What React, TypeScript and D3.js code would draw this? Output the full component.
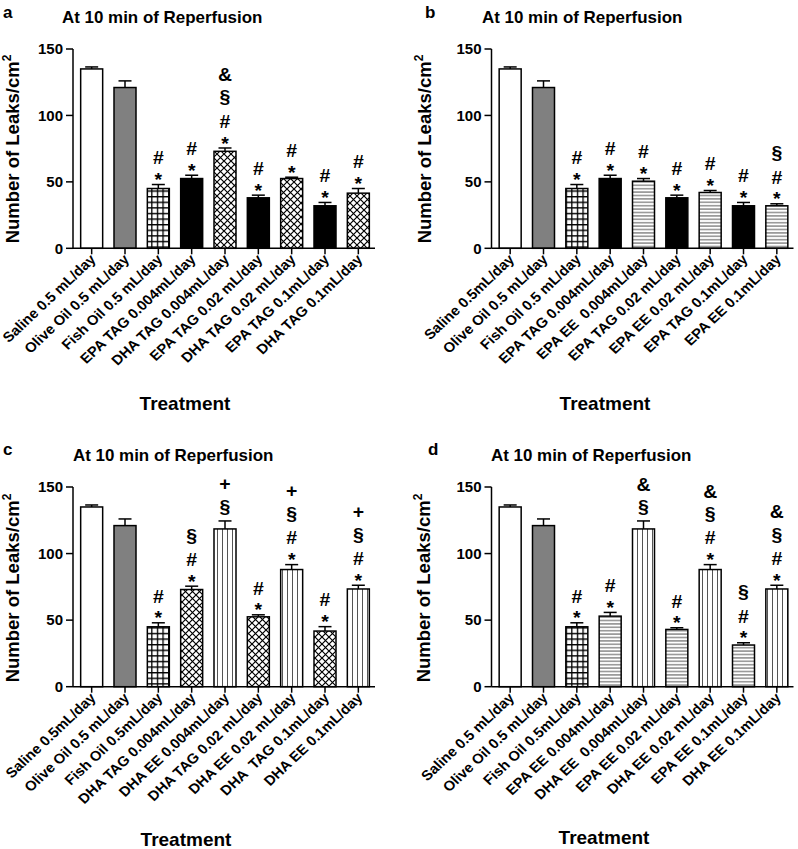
import React from 'react';
import * as d3 from 'd3';

const FONT = "'Liberation Sans', Arial, Helvetica, sans-serif";

// ---------- data ----------
const yTicks = [0, 50, 100, 150];
const panelTitle = 'At 10 min of Reperfusion';
const yLabel = 'Number of Leaks/cm';
const xTitle = 'Treatment';

const labelsA = ['Saline 0.5 mL/day', 'Olive Oil 0.5 mL/day', 'Fish Oil 0.5 mL/day', 'EPA TAG 0.004mL/day', 'DHA TAG 0.004mL/day', 'EPA TAG 0.02 mL/day', 'DHA TAG 0.02 mL/day', 'EPA TAG 0.1mL/day', 'DHA TAG 0.1mL/day'];
const valuesA = [135, 121, 45, 52.5, 73, 38, 52.5, 32, 41.5];
const errorsA = [1.5, 5, 3, 2.5, 2.5, 2, 1, 2.5, 3.5];
const fillsA = ['white', 'gray', 'grid', 'black', 'cross', 'black', 'cross', 'black', 'cross'];
const marksA = [[], [], ['*', '#'], ['*', '#'], ['*', '#', '§', '&'], ['*', '#'], ['*', '#'], ['*', '#'], ['*', '#']];

const labelsB = ['Saline 0.5mL/day', 'Olive Oil 0.5 mL/day', 'Fish Oil 0.5 mL/day', 'EPA TAG 0.004mL/day', 'EPA EE  0.004mL/day', 'EPA TAG 0.02 mL/day', 'EPA EE 0.02 mL/day', 'EPA TAG 0.1mL/day', 'EPA EE 0.1mL/day'];
const valuesB = [135, 121, 45, 52.5, 50.5, 38, 42, 32, 32];
const errorsB = [1.5, 5, 3, 2.5, 2, 2, 1.5, 2.5, 1.5];
const fillsB = ['white', 'gray', 'grid', 'black', 'hline', 'black', 'hline', 'black', 'hline'];
const marksB = [[], [], ['*', '#'], ['*', '#'], ['*', '#'], ['*', '#'], ['*', '#'], ['*', '#'], ['*', '#', '§']];

const labelsC = ['Saline 0.5mL/day', 'Olive Oil 0.5 mL/day', 'Fish Oil 0.5mL/day', 'DHA TAG 0.004mL/day', 'DHA EE 0.004mL/day', 'DHA TAG 0.02 mL/day', 'DHA EE 0.02 mL/day', 'DHA  TAG 0.1mL/day', 'DHA EE 0.1mL/day'];
const valuesC = [135, 121, 45, 73, 118.5, 52.5, 88, 41.8, 73.4];
const errorsC = [1.5, 5, 3, 2.5, 6, 1.5, 3.7, 3.3, 2.8];
const fillsC = ['white', 'gray', 'grid', 'cross', 'vline', 'cross', 'vline', 'cross', 'vline'];
const marksC = [[], [], ['*', '#'], ['*', '#', '§'], ['§', '+'], ['*', '#'], ['*', '#', '§', '+'], ['*', '#'], ['*', '#', '§', '+']];

const labelsD = ['Saline 0.5 mL/day', 'Olive Oil 0.5 mL/day', 'Fish Oil 0.5mL/day', 'EPA EE 0.004mL/day', 'DHA EE  0.004mL/day', 'EPA EE 0.02 mL/day', 'DHA EE 0.02 mL/day', 'EPA EE 0.1mL/day', 'DHA EE 0.1mL/day'];
const valuesD = [135, 121, 45, 53, 118.5, 43, 88, 31.3, 73.4];
const errorsD = [1.5, 5, 3, 2.8, 6, 1.3, 3.7, 1.7, 2.8];
const fillsD = ['white', 'gray', 'grid', 'hline', 'vline', 'hline', 'vline', 'hline', 'vline'];
const marksD = [[], [], ['*', '#'], ['*', '#'], ['§', '&'], ['*', '#'], ['*', '#', '§', '&'], ['*', '#', '§'], ['*', '#', '§', '&']];

// ---------- layout ----------
const panels = [
  { letter: 'a', labels: labelsA, values: valuesA, errors: errorsA, fills: fillsA, marks: marksA,
    x0: 75, y0: 248.3, y150: 49, letterPos: [3, 18], titlePos: [62, 23], yLabPos: [19, 149], xTitlePos: [185, 410] },
  { letter: 'b', labels: labelsB, values: valuesB, errors: errorsB, fills: fillsB, marks: marksB,
    x0: 493.5, y0: 248.3, y150: 49, letterPos: [425, 18], titlePos: [482, 23], yLabPos: [431, 149], xTitlePos: [605, 410] },
  { letter: 'c', labels: labelsC, values: valuesC, errors: errorsC, fills: fillsC, marks: marksC,
    x0: 75, y0: 686.7, y150: 487, letterPos: [3, 455], titlePos: [73, 461], yLabPos: [19, 588], xTitlePos: [186, 846] },
  { letter: 'd', labels: labelsD, values: valuesD, errors: errorsD, fills: fillsD, marks: marksD,
    x0: 493.5, y0: 686.7, y150: 487, letterPos: [428, 455], titlePos: [491, 461], yLabPos: [430, 588], xTitlePos: [604, 844] },
];

const fillFor: Record<string, string> = {
  white: '#ffffff', gray: '#808080', black: '#000000',
  grid: 'url(#pat-grid)', cross: 'url(#pat-cross)', hline: 'url(#pat-hline)', vline: 'url(#pat-vline)',
};

// visual centre of glyph above baseline (em)
const glyphCenter: Record<string, number> = { '*': 0.56, '#': 0.35, '§': 0.3, '&': 0.36, '+': 0.33 };

function Panel({ p }: { p: any }) {
  const x = d3.scaleBand<string>().domain(p.labels).range([p.x0, p.x0 + 300]).paddingInner(0.34).paddingOuter(0.17);
  const y = d3.scaleLinear().domain([0, 150]).range([p.y0, p.y150]);
  const axisX = p.x0 - 2;
  const bw = x.bandwidth();
  const fs = 18;
  return (
    <g>
      <text x={p.letterPos[0]} y={p.letterPos[1]} fontSize={17} fontWeight="bold">{p.letter}</text>
      <text transform={`translate(${p.titlePos[0]},${p.titlePos[1]}) scale(1.04,1)`} fontSize={16.3} fontWeight="bold">{panelTitle}</text>
      <text transform={`translate(${p.yLabPos[0]},${p.yLabPos[1]}) rotate(-90)`} textAnchor="middle" fontSize={18.5} fontWeight="bold">
        {yLabel}<tspan fontSize={12} dy={-8}>2</tspan>
      </text>
      {/* bars */}
      {p.labels.map((lab: string, i: number) => {
        const cx = (x(lab) as number) + bw / 2;
        const top = y(p.values[i]);
        const errTop = y(p.values[i] + p.errors[i]);
        return (
          <g key={lab}>
            <line x1={cx} x2={cx} y1={top} y2={errTop} stroke="#000" strokeWidth={1.5} />
            <line x1={cx - 6.5} x2={cx + 6.5} y1={errTop} y2={errTop} stroke="#000" strokeWidth={1.5} />
            <rect x={x(lab)} y={top} width={bw} height={y(0) - top} fill={fillFor[p.fills[i]]} stroke="#000" strokeWidth={1.5} />
          </g>
        );
      })}
      {/* significance marks */}
      {p.labels.map((lab: string, i: number) => {
        const cx = (x(lab) as number) + bw / 2;
        const errTop = y(p.values[i] + p.errors[i]);
        const out: any[] = [];
        let c = errTop - (p.marks[i][0] === '*' ? 8.5 : 13);
        p.marks[i].forEach((m: string, k: number) => {
          if (k > 0) c -= p.marks[i][k - 1] === '*' ? 18 : 23.5;
          out.push(
            <text key={k} transform={`translate(${cx},${c + glyphCenter[m] * fs}) scale(1.08,1)`} textAnchor="middle" fontSize={fs} fontWeight="bold">{m}</text>
          );
        });
        return <g key={'m' + lab}>{out}</g>;
      })}
      {/* y axis */}
      <line x1={axisX} x2={axisX} y1={y(150)} y2={y(0)} stroke="#000" strokeWidth={1.5} />
      {yTicks.map((t) => (
        <g key={t}>
          <line x1={axisX - 7} x2={axisX} y1={y(t)} y2={y(t)} stroke="#000" strokeWidth={1.5} />
          <text x={axisX - 10} y={y(t)} dy="0.35em" textAnchor="end" fontSize={15} fontWeight="bold">{t}</text>
        </g>
      ))}
      {/* x axis */}
      <line x1={axisX} x2={p.x0 + 300} y1={y(0)} y2={y(0)} stroke="#000" strokeWidth={1.5} />
      {p.labels.map((lab: string) => {
        const cx = (x(lab) as number) + bw / 2;
        return (
          <g key={'t' + lab}>
            <line x1={cx} x2={cx} y1={y(0)} y2={y(0) + 6} stroke="#000" strokeWidth={1.5} />
            <text transform={`translate(${cx + 5},${y(0) + 12}) scale(1.06,1) rotate(-45)`} textAnchor="end" fontSize={14} fontWeight="bold" style={{ whiteSpace: 'pre' }}>{lab}</text>
          </g>
        );
      })}
      <text x={p.xTitlePos[0]} y={p.xTitlePos[1]} textAnchor="middle" fontSize={19} fontWeight="bold">{xTitle}</text>
    </g>
  );
}

export default function App() {
  return (
    <svg width={798} height={849} style={{ position: 'absolute', left: 0, top: 0, background: '#fff' }} fontFamily={FONT}>
      <defs>
        <pattern id="pat-grid" patternUnits="userSpaceOnUse" width={5.6} height={5.6}>
          <rect width={5.6} height={5.6} fill="#fff" />
          <path d="M0,0.6 H5.6 M0.6,0 V5.6" stroke="#000" strokeWidth={1.4} />
        </pattern>
        <pattern id="pat-cross" patternUnits="userSpaceOnUse" width={7} height={7}>
          <rect width={7} height={7} fill="#fff" />
          <path d="M0,0 L7,7 M7,0 L0,7" stroke="#000" strokeWidth={1.2} />
        </pattern>
        <pattern id="pat-hline" patternUnits="userSpaceOnUse" width={4} height={3.4}>
          <rect width={4} height={3.4} fill="#fff" />
          <line x1={0} x2={4} y1={1.7} y2={1.7} stroke="#555" strokeWidth={1} />
        </pattern>
        <pattern id="pat-vline" patternUnits="userSpaceOnUse" width={5} height={4}>
          <rect width={5} height={4} fill="#fff" />
          <line x1={2.5} x2={2.5} y1={0} y2={4} stroke="#555" strokeWidth={1} />
        </pattern>
      </defs>
      <rect width={798} height={849} fill="#fff" />
      {panels.map((p) => <Panel key={p.letter} p={p} />)}
    </svg>
  );
}
